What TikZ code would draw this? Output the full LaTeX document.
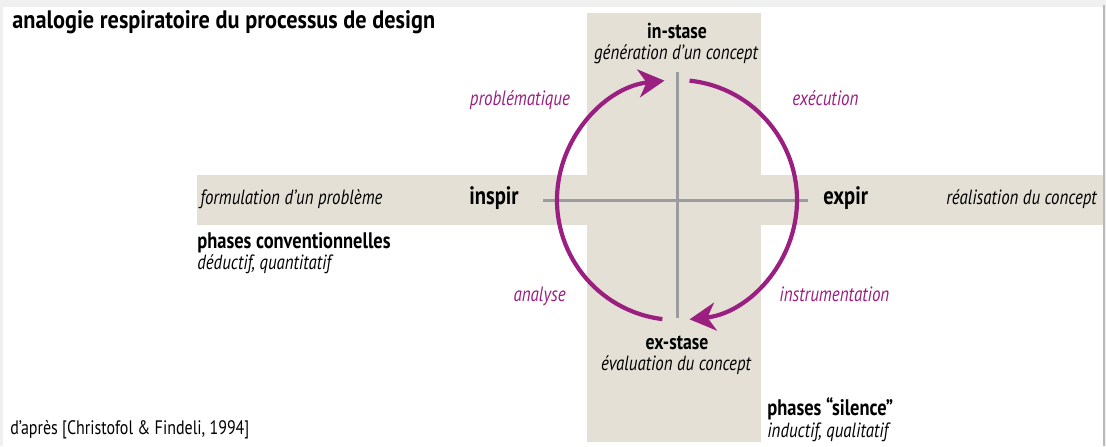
\documentclass[tikz,border=0pt]{standalone}
\usepackage{fontspec}
\setmainfont[FakeStretch=0.82]{PT Sans}
\newfontfamily\titlefont[FakeStretch=0.88]{PT Sans}
\usetikzlibrary{arrows.meta}
\definecolor{band}{HTML}{E4E0D6}
\definecolor{cyc}{HTML}{9A1F80}
\definecolor{axis}{HTML}{9A9C9F}
\tikzset{
  bandfill/.style={fill=band, draw=none},
  axisline/.style={draw=axis, line width=3*0.569pt},
  cycle/.style={draw=cyc, line width=4.2*0.569pt, -{Stealth[length=26*0.569pt, width=28*0.569pt, inset=8*0.569pt]}},
  head/.style={font=\fontsize{12.3}{14}\selectfont\bfseries, inner sep=0pt},
  pole/.style={font=\fontsize{14.3}{16}\selectfont\bfseries, inner sep=0pt},
  phase/.style={font=\fontsize{12.8}{15}\selectfont\bfseries, inner sep=0pt},
  sub/.style={font=\fontsize{11.7}{13}\selectfont\itshape, inner sep=0pt},
  lab/.style={font=\fontsize{11.8}{13}\selectfont\itshape, text=cyc, inner sep=0pt},
  note/.style={font=\fontsize{11.1}{13}\selectfont, inner sep=0pt}
}
\begin{document}
\begin{tikzpicture}[x=0.02cm, y=-0.02cm]
  % page and shadow
  \fill[gray!12] (0,0) rectangle (1106,446);
  \fill[white] (3,7) rectangle (1103,446);
  \draw[gray!55, line width=0.6pt] (1104,5) -- (1104,446);
  \useasboundingbox (0,0) rectangle (1106,446);
  % bands
  \path[bandfill] (587,13) rectangle (761,442);
  \path[bandfill] (197,175) rectangle (1103,225);
  % axes
  \coordinate (cc) at (677,200);
  \coordinate (hl) at (543,200);
  \coordinate (hr) at (808,200);
  \coordinate (vt) at (677,72);
  \coordinate (vb) at (677,318);
  \draw[axisline] (hl) -- (hr);
  \draw[axisline] (vt) -- (vb);
  % cycle arcs (screen angles, y downward)
  \draw[cycle] ([shift={(97:120)}]cc) arc[start angle=97, end angle=264, radius=120];
  \draw[cycle] ([shift={(276:120)}]cc) arc[start angle=276, end angle=444, radius=120];
  % title
  \node[inner sep=0pt, anchor=base west, font=\fontsize{14.4}{16}\titlefont\bfseries] (title) at (12,28) {analogie respiratoire du processus de design};
  % top / bottom poles
  \node[head, anchor=base] (instase) at (677,38) {in-stase};
  \node[sub, anchor=base] (gen) at (676,59) {génération d’un concept};
  \node[head, anchor=base] (exstase) at (677,349) {ex-stase};
  \node[sub, anchor=base] (eval) at (676,370) {évaluation du concept};
  % left / right poles
  \node[pole, anchor=base west] (inspir) at (469,204) {inspir};
  \node[sub, anchor=base west] (form) at (200,204) {formulation d’un problème};
  \node[pole, anchor=base west] (expir) at (823,204) {expir};
  \node[sub, anchor=base east] (real) at (1097,204) {réalisation du concept};
  % cycle labels
  \node[lab, anchor=base] (prob) at (520,105) {problématique};
  \node[lab, anchor=base west] (exec) at (792,105) {exécution};
  \node[lab, anchor=base east] (anal) at (566,301) {analyse};
  \node[lab, anchor=base west] (instr) at (779,301) {instrumentation};
  % phases
  \node[phase, anchor=base west] (conv) at (197,248) {phases conventionnelles};
  \node[sub, anchor=base west] (ded) at (197,269) {déductif, quantitatif};
  \node[phase, anchor=base west] (sil) at (767,415) {phases “silence”};
  \node[sub, anchor=base west] (ind) at (767,437) {inductif, qualitatif};
  \node[note, anchor=base west] (src) at (10,434) {d’après [Christofol \& Findeli, 1994]};
\end{tikzpicture}
\end{document}
